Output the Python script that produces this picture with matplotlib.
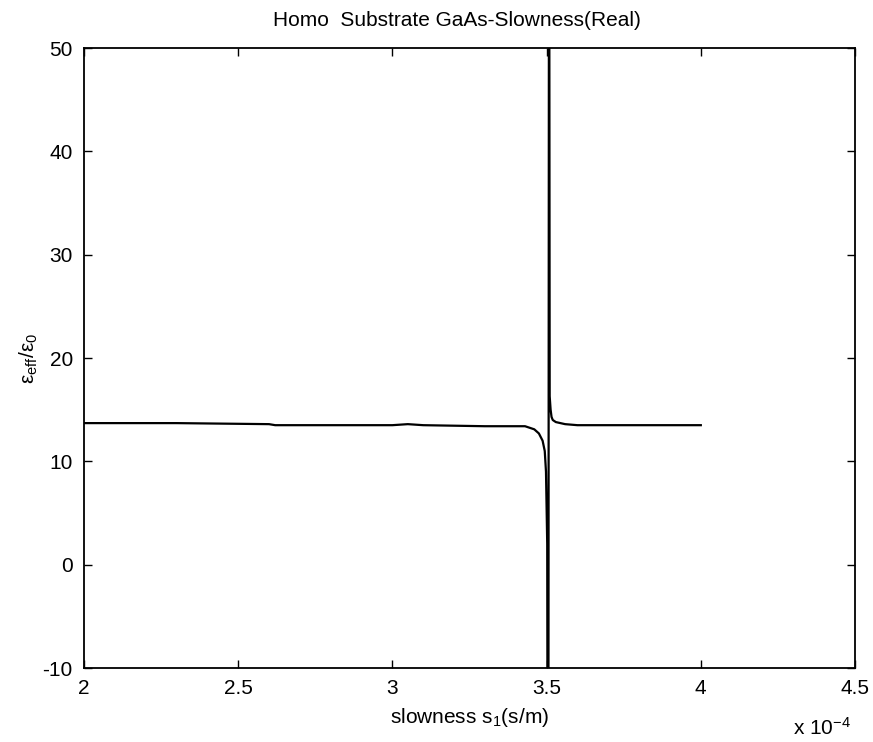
#import libraries
import matplotlib
matplotlib.use("Agg")
import matplotlib.pyplot as plt

#Fonts
plt.rcParams['font.family'] = ['Liberation Sans', 'DejaVu Sans']
plt.rcParams['mathtext.default'] = 'regular'
plt.rcParams['axes.unicode_minus'] = False

#Data (slowness in units of 1e-4 s/m)
slowness = [2.00, 2.30, 2.60, 2.62, 2.90, 3.00, 3.05, 3.10, 3.30, 3.43, 3.46,
            3.475, 3.487, 3.494, 3.498, 3.502, 3.505, 3.508, 3.510, 3.513,
            3.516, 3.52, 3.53, 3.56, 3.60, 3.70, 3.85, 4.00]
eps_eff = [13.7, 13.7, 13.6, 13.5, 13.5, 13.5, 13.6, 13.5, 13.4, 13.4, 13.1,
           12.7, 12.0, 11.0, 9.0, 2.0, -60.0, 80.0, 16.3, 15.0,
           14.3, 14.0, 13.8, 13.6, 13.5, 13.5, 13.5, 13.5]

xticks = [2, 2.5, 3, 3.5, 4, 4.5]
xtick_labels = ['2', '2.5', '3', '3.5', '4', '4.5']
yticks = [-10, 0, 10, 20, 30, 40, 50]

#Figure
fig = plt.figure(figsize=(8.73, 7.42), dpi=100)
ax = fig.add_axes([0.0962, 0.0997, 0.8832, 0.8356])

ax.plot(slowness, eps_eff, color='black', linewidth=1.6)

ax.set_xlim(2, 4.5)
ax.set_ylim(-10, 50)
ax.set_xticks(xticks)
ax.set_xticklabels(xtick_labels)
ax.set_yticks(yticks)
ax.tick_params(direction='in', length=6, width=1, labelsize=15,
               top=True, right=True, pad=8)
for sp in ax.spines.values():
    sp.set_linewidth(1.3)

#Labels
fig.text(0.523, 1 - 20 / 742, 'Homo  Substrate GaAs-Slowness(Real)',
         ha='center', va='center', fontsize=15)
ax.set_xlabel('slowness $s_1$(s/m)', fontsize=15, labelpad=6)
ax.set_ylabel('ε$_{eff}$/ε$_0$', fontsize=15, labelpad=2)
fig.text(793 / 873, 1 - 728 / 742, 'x 10$^{-4}$', ha='left', va='center',
         fontsize=15)

fig.savefig('out.png', dpi=100)
